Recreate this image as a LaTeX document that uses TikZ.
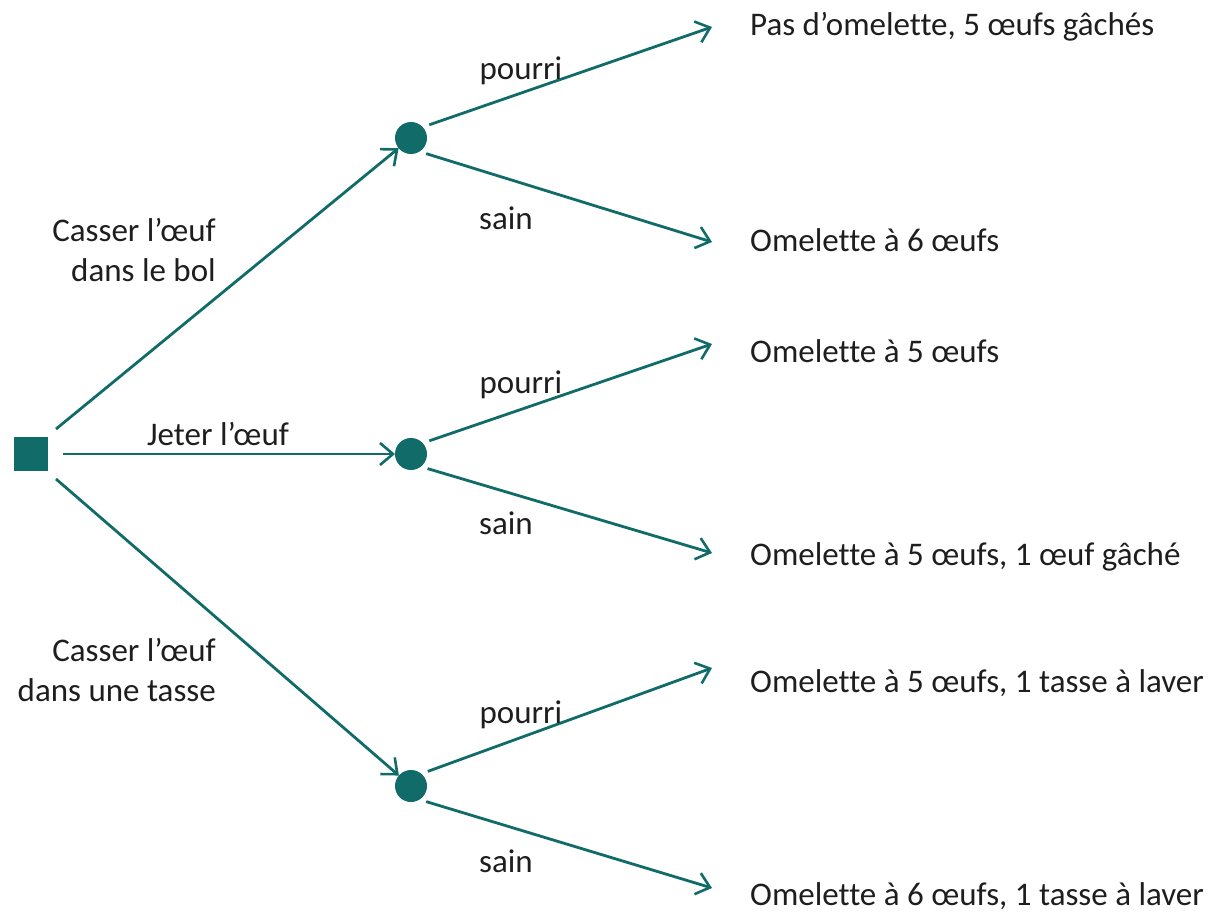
\documentclass[tikz,border=0pt]{standalone}
\usepackage{fontspec}
\setmainfont[Ligatures={NoCommon}]{Carlito}
\usetikzlibrary{arrows.meta}
\definecolor{teal1}{RGB}{17,107,104}
\definecolor{txt}{RGB}{30,30,30}
\begin{document}
\begin{tikzpicture}[x=1pt,y=-1pt,
  every node/.style={font=\fontsize{33}{40}\selectfont, text=txt, inner sep=0pt},
  decision/.style={draw=none, fill=teal1, minimum size=34pt, rectangle, outer sep=8pt},
  chance/.style={draw=none, fill=teal1, circle, minimum size=32pt, outer sep=0pt},
  branch/.style={draw=teal1, line width=2.8pt, -{Straight Barb[length=13pt,width=22pt,line width=2.6pt]}},
  outcome/.style={anchor=base west},
  lbl/.style={anchor=base}
]
\useasboundingbox (0,0) rectangle (1216,912);

\node[decision] (sq) at (31,454) {};
\node[chance] (c1) at (411,138) {};
\node[chance] (c2) at (411,454) {};
\node[chance] (c3) at (411,786) {};

\node[outcome] (o1) at (750,36) {Pas d’omelette, 5 œufs gâchés};
\node[outcome] (o2) at (750,252) {Omelette à 6 œufs};
\node[outcome] (o3) at (750,362) {Omelette à 5 œufs};
\node[outcome] (o4) at (750,565) {Omelette à 5 œufs, 1 œuf gâché};
\node[outcome] (o5) at (750,692) {Omelette à 5 œufs, 1 tasse à laver};
\node[outcome] (o6) at (750,905) {Omelette à 6 œufs, 1 tasse à laver};

\coordinate (t1) at (712,27);
\coordinate (t2) at (712,242);
\coordinate (t3) at (712,344);
\coordinate (t4) at (712,553);
\coordinate (t5) at (712,668);
\coordinate (t6) at (712,888);

% first-level branches
\draw[branch] (sq.north east) -- (c1);
\draw[branch, shorten <=7pt] (sq.east) -- (c2);
\draw[branch] (sq.south east) -- (c3);

\node[anchor=east, align=right] (l1) at (216,250) {Casser l’œuf\\dans le bol};
\node[lbl] (l2) at (218,445) {Jeter l’œuf};
\node[anchor=east, align=right] (l3) at (216,670) {Casser l’œuf\\dans une tasse};

% second-level branches
\draw[branch, shorten <=7pt] (c1.43) -- (t1);
\draw[branch, shorten <=7pt] (c1.-58) -- (t2);
\draw[branch, shorten <=7pt] (c2.43) -- (t3);
\draw[branch, shorten <=7pt] (c2.-52) -- (t4);
\draw[branch, shorten <=7pt] (c3.50) -- (t5);
\draw[branch, shorten <=7pt] (c3.-58) -- (t6);

\node[lbl] (p1) at (521,80) {pourri};
\node[lbl] (s1) at (506,230) {sain};
\node[lbl] (p2) at (521,393) {pourri};
\node[lbl] (s2) at (506,534) {sain};
\node[lbl] (p3) at (521,723) {pourri};
\node[lbl] (s3) at (506,872) {sain};
\end{tikzpicture}
\end{document}
